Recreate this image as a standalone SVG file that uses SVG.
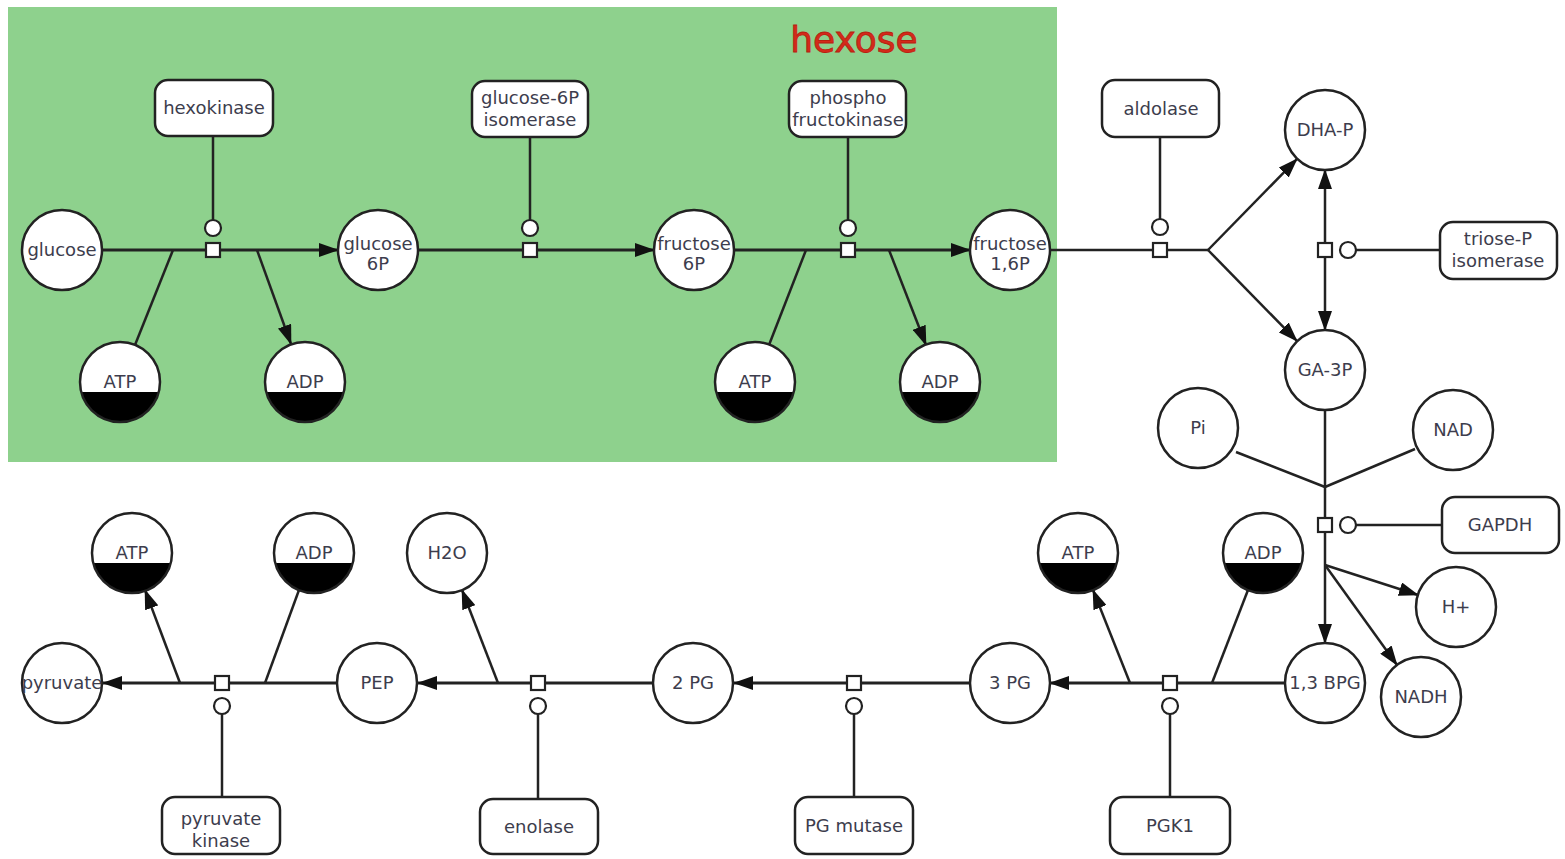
<svg xmlns="http://www.w3.org/2000/svg" width="1565" height="859" viewBox="0 0 1565 859">
<style>
.bg{fill:#ffffff}
.cmp{fill:#8ed18d}
.title{font-family:"DejaVu Sans",sans-serif;font-size:36px;fill:#d42a1a;stroke:#b82010;stroke-width:0.8;text-anchor:middle}
.n{fill:#ffffff;stroke:#222;stroke-width:2.5}
.ring{fill:none;stroke:#222;stroke-width:2.5}
.wh{fill:#ffffff}
.blk{fill:#000000}
.t{font-family:"DejaVu Sans",sans-serif;font-size:18px;fill:#3d3d4d;text-anchor:middle}
.ln{fill:none;stroke:#222;stroke-width:2.5}
.main{fill:none;stroke:#222;stroke-width:3}
.ar{marker-end:url(#arr)}
.pr{fill:#ffffff;stroke:#222;stroke-width:2.2}
</style>
<defs>
<marker id="arr" viewBox="0 0 20 14" refX="19" refY="7" markerWidth="20" markerHeight="14" markerUnits="userSpaceOnUse" orient="auto-start-reverse">
<path d="M0,0 L20,7 L0,14 Z" fill="#111"/>
</marker>
</defs>
<rect class="bg" x="0" y="0" width="1565" height="859"/>
<g id="hexose-compartment">
<rect class="cmp" x="8" y="7" width="1049" height="455"/>
<text class="title" x="854" y="52">hexose</text>
</g>

<g id="connectors">
<line class="main ar" x1="102" y1="250" x2="338" y2="250"/>
<line class="ln" x1="213" y1="136" x2="213" y2="220"/>
<line class="ln" x1="173" y1="250" x2="135" y2="345"/>
<line class="ln ar" x1="257" y1="250" x2="291" y2="344"/>
<line class="main ar" x1="418" y1="250" x2="654" y2="250"/>
<line class="ln" x1="530" y1="137" x2="530" y2="220"/>
<line class="main ar" x1="734" y1="250" x2="970" y2="250"/>
<line class="ln" x1="848" y1="137" x2="848" y2="220"/>
<line class="ln" x1="806" y1="250" x2="769" y2="345"/>
<line class="ln ar" x1="889" y1="250" x2="926" y2="345"/>
<line class="ln" x1="1050" y1="250" x2="1208" y2="250"/>
<line class="ln" x1="1160" y1="137" x2="1160" y2="219"/>
<line class="ln ar" x1="1208" y1="250" x2="1297" y2="159"/>
<line class="ln ar" x1="1208" y1="250" x2="1297" y2="341"/>
<line class="ln ar" x1="1325" y1="250" x2="1325" y2="170"/>
<line class="ln ar" x1="1325" y1="250" x2="1325" y2="330"/>
<line class="ln" x1="1356" y1="250" x2="1440" y2="250"/>
<line class="ln" x1="1325" y1="410" x2="1325" y2="565"/>
<line class="ln ar" x1="1325" y1="565" x2="1325" y2="643"/>
<line class="ln" x1="1236" y1="452" x2="1325" y2="487"/>
<line class="ln" x1="1415" y1="449" x2="1325" y2="487"/>
<line class="ln" x1="1356" y1="525" x2="1442" y2="525"/>
<line class="ln ar" x1="1325" y1="565" x2="1418" y2="595"/>
<line class="ln ar" x1="1325" y1="565" x2="1397" y2="665"/>
<line class="main ar" x1="1285" y1="683" x2="1050" y2="683"/>
<line class="ln" x1="1170" y1="714" x2="1170" y2="797"/>
<line class="ln" x1="1212" y1="683" x2="1248" y2="590"/>
<line class="ln ar" x1="1130" y1="683" x2="1093" y2="590"/>
<line class="main ar" x1="970" y1="683" x2="734" y2="683"/>
<line class="ln" x1="854" y1="714" x2="854" y2="797"/>
<line class="main ar" x1="653" y1="683" x2="418" y2="683"/>
<line class="ln" x1="538" y1="714" x2="538" y2="799"/>
<line class="ln ar" x1="498" y1="683" x2="462" y2="590"/>
<line class="main ar" x1="337" y1="683" x2="103" y2="683"/>
<line class="ln" x1="222" y1="714" x2="222" y2="797"/>
<line class="ln" x1="265" y1="683" x2="299" y2="590"/>
<line class="ln ar" x1="180" y1="683" x2="145" y2="590"/>
</g>

<g id="process-nodes">
<rect class="pr" x="206" y="243" width="14" height="14"/><circle class="pr" cx="213" cy="228" r="8"/>
<rect class="pr" x="523" y="243" width="14" height="14"/><circle class="pr" cx="530" cy="228" r="8"/>
<rect class="pr" x="841" y="243" width="14" height="14"/><circle class="pr" cx="848" cy="228" r="8"/>
<rect class="pr" x="1153" y="243" width="14" height="14"/><circle class="pr" cx="1160" cy="227" r="8"/>
<rect class="pr" x="1318" y="243" width="14" height="14"/><circle class="pr" cx="1348" cy="250" r="8"/>
<rect class="pr" x="1318" y="518" width="14" height="14"/><circle class="pr" cx="1348" cy="525" r="8"/>
<rect class="pr" x="1163" y="676" width="14" height="14"/><circle class="pr" cx="1170" cy="706" r="8"/>
<rect class="pr" x="847" y="676" width="14" height="14"/><circle class="pr" cx="854" cy="706" r="8"/>
<rect class="pr" x="531" y="676" width="14" height="14"/><circle class="pr" cx="538" cy="706" r="8"/>
<rect class="pr" x="215" y="676" width="14" height="14"/><circle class="pr" cx="222" cy="706" r="8"/>
</g>

<g id="glucose"><circle class="n" cx="62" cy="250" r="40"/><text class="t" x="62" y="256">glucose</text></g>
<g id="glucose6p"><circle class="n" cx="378" cy="250" r="40"/><text class="t" x="378" y="250">glucose</text><text class="t" x="378" y="270">6P</text></g>
<g id="fructose6p"><circle class="n" cx="694" cy="250" r="40"/><text class="t" x="694" y="250">fructose</text><text class="t" x="694" y="270">6P</text></g>
<g id="fructose16p"><circle class="n" cx="1010" cy="250" r="40"/><text class="t" x="1010" y="250">fructose</text><text class="t" x="1010" y="270">1,6P</text></g>

<g id="atp1"><circle class="wh" cx="120" cy="382" r="40"/><path class="blk" d="M81.27,392 A40,40 0 0 0 158.73,392 Z"/><circle class="ring" cx="120" cy="382" r="40"/><text class="t" x="120" y="388">ATP</text></g>
<g id="adp1"><circle class="wh" cx="305" cy="382" r="40"/><path class="blk" d="M266.27,392 A40,40 0 0 0 343.73,392 Z"/><circle class="ring" cx="305" cy="382" r="40"/><text class="t" x="305" y="388">ADP</text></g>
<g id="atp2"><circle class="wh" cx="755" cy="382" r="40"/><path class="blk" d="M716.27,392 A40,40 0 0 0 793.73,392 Z"/><circle class="ring" cx="755" cy="382" r="40"/><text class="t" x="755" y="388">ATP</text></g>
<g id="adp2"><circle class="wh" cx="940" cy="382" r="40"/><path class="blk" d="M901.27,392 A40,40 0 0 0 978.73,392 Z"/><circle class="ring" cx="940" cy="382" r="40"/><text class="t" x="940" y="388">ADP</text></g>

<g id="hexokinase"><rect class="n" x="155" y="80" width="118" height="56" rx="13"/><text class="t" x="214" y="114">hexokinase</text></g>
<g id="g6p-isomerase"><rect class="n" x="472" y="81" width="116" height="56" rx="13"/><text class="t" x="530" y="104">glucose-6P</text><text class="t" x="530" y="126">isomerase</text></g>
<g id="pfk"><rect class="n" x="789" y="81" width="117" height="56" rx="13"/><text class="t" x="848" y="104">phospho</text><text class="t" x="848" y="126">fructokinase</text></g>
<g id="aldolase"><rect class="n" x="1102" y="80" width="117" height="57" rx="13"/><text class="t" x="1161" y="115">aldolase</text></g>

<g id="dhap"><circle class="n" cx="1325" cy="130" r="40"/><text class="t" x="1325" y="136">DHA-P</text></g>
<g id="ga3p"><circle class="n" cx="1325" cy="370" r="40"/><text class="t" x="1325" y="376">GA-3P</text></g>
<g id="tpi"><rect class="n" x="1440" y="222" width="117" height="57" rx="13"/><text class="t" x="1498" y="245">triose-P</text><text class="t" x="1498" y="267">isomerase</text></g>
<g id="pi"><circle class="n" cx="1198" cy="428" r="40"/><text class="t" x="1198" y="434">Pi</text></g>
<g id="nad"><circle class="n" cx="1453" cy="430" r="40"/><text class="t" x="1453" y="436">NAD</text></g>
<g id="gapdh"><rect class="n" x="1442" y="497" width="117" height="56" rx="13"/><text class="t" x="1500" y="531">GAPDH</text></g>
<g id="hplus"><circle class="n" cx="1456" cy="607" r="40"/><text class="t" x="1456" y="613">H+</text></g>
<g id="nadh"><circle class="n" cx="1421" cy="697" r="40"/><text class="t" x="1421" y="703">NADH</text></g>
<g id="bpg13"><circle class="n" cx="1325" cy="683" r="40"/><text class="t" x="1325" y="689">1,3 BPG</text></g>

<g id="atp3"><circle class="wh" cx="1078" cy="553" r="40"/><path class="blk" d="M1039.27,563 A40,40 0 0 0 1116.73,563 Z"/><circle class="ring" cx="1078" cy="553" r="40"/><text class="t" x="1078" y="559">ATP</text></g>
<g id="adp3"><circle class="wh" cx="1263" cy="553" r="40"/><path class="blk" d="M1224.27,563 A40,40 0 0 0 1301.73,563 Z"/><circle class="ring" cx="1263" cy="553" r="40"/><text class="t" x="1263" y="559">ADP</text></g>
<g id="pgk1"><rect class="n" x="1110" y="797" width="120" height="57" rx="13"/><text class="t" x="1170" y="832">PGK1</text></g>
<g id="pg3"><circle class="n" cx="1010" cy="683" r="40"/><text class="t" x="1010" y="689">3 PG</text></g>
<g id="pgmutase"><rect class="n" x="795" y="797" width="118" height="57" rx="13"/><text class="t" x="854" y="832">PG mutase</text></g>
<g id="pg2"><circle class="n" cx="693" cy="683" r="40"/><text class="t" x="693" y="689">2 PG</text></g>
<g id="h2o"><circle class="n" cx="447" cy="553" r="40"/><text class="t" x="447" y="559">H2O</text></g>
<g id="enolase"><rect class="n" x="480" y="799" width="118" height="55" rx="13"/><text class="t" x="539" y="833">enolase</text></g>
<g id="pep"><circle class="n" cx="377" cy="683" r="40"/><text class="t" x="377" y="689">PEP</text></g>
<g id="atp4"><circle class="wh" cx="132" cy="553" r="40"/><path class="blk" d="M93.27,563 A40,40 0 0 0 170.73,563 Z"/><circle class="ring" cx="132" cy="553" r="40"/><text class="t" x="132" y="559">ATP</text></g>
<g id="adp4"><circle class="wh" cx="314" cy="553" r="40"/><path class="blk" d="M275.27,563 A40,40 0 0 0 352.73,563 Z"/><circle class="ring" cx="314" cy="553" r="40"/><text class="t" x="314" y="559">ADP</text></g>
<g id="pyruvate-kinase"><rect class="n" x="162" y="797" width="118" height="57" rx="13"/><text class="t" x="221" y="825">pyruvate</text><text class="t" x="221" y="847">kinase</text></g>
<g id="pyruvate"><circle class="n" cx="62" cy="683" r="40"/><text class="t" x="62" y="689">pyruvate</text></g>
</svg>
